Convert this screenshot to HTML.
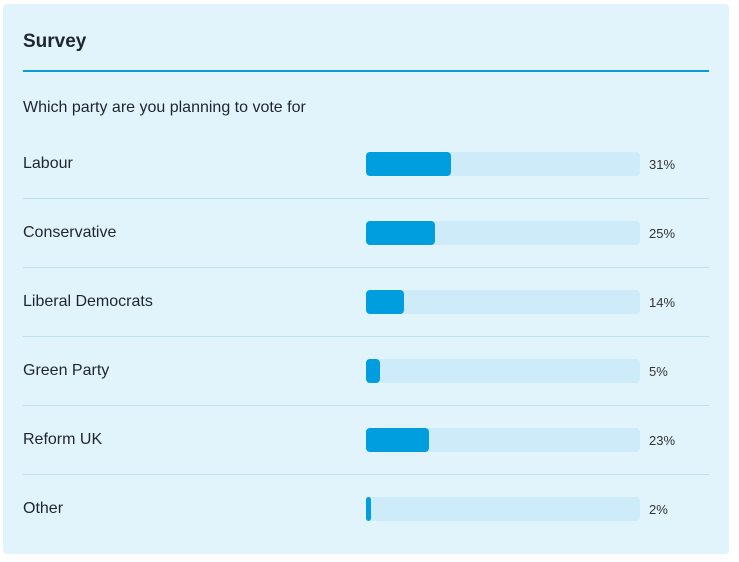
<!DOCTYPE html>
<html><head><meta charset="utf-8"><style>
body{margin:0;background:#fff;font-family:"Liberation Sans",sans-serif;}
#card{position:absolute;left:3px;top:4px;width:726px;height:550px;background:#e2f4fb;border-radius:4px;}
.t{position:absolute;color:#1e2530;}
</style></head><body>
<div id="card">
<div class="t" style="left:20px;top:27px;font-size:19px;font-weight:bold;">Survey</div>
<div style="position:absolute;left:20px;top:66px;width:686px;height:2px;background:#0b9bd8"></div>
<div class="t" style="left:20px;top:95px;font-size:16px;">Which party are you planning to vote for</div>
<div id="rows"></div>
</div>
<script>
const categories=["Labour","Conservative","Liberal Democrats","Green Party","Reform UK","Other"];
const values=[31,25,14,5,23,2];
const labels=["31%","25%","14%","5%","23%","2%"];
const rows=document.getElementById('rows');
const x0=363,trackW=274,rowH=69,top0=148;
function xs(v){return v/100*trackW;}
categories.forEach((c,i)=>{
  const y=top0+i*rowH;
  const l=document.createElement('div');l.className='t';
  
  
  l.style.cssText=`left:20px;top:${y+3}px;font-size:16px;`;l.textContent=c;rows.appendChild(l);
  const tr=document.createElement('div');
  
  
  tr.style.cssText=`position:absolute;left:${x0}px;top:${y}px;width:${trackW}px;height:24px;background:#cdebf8;border-radius:4px;`;
  rows.appendChild(tr);
  const b=document.createElement('div');
  
  
  b.style.cssText=`position:absolute;left:${x0}px;top:${y}px;width:${xs(values[i])}px;height:24px;background:#009ddf;border-radius:4px;`;
  rows.appendChild(b);
  const p=document.createElement('div');p.className='t';
  
  
  p.style.cssText=`left:646px;top:${y+5}px;font-size:13px;color:#333;`;p.textContent=labels[i];rows.appendChild(p);
  if(i<categories.length-1){
    const s=document.createElement('div');
    
    
    s.style.cssText=`position:absolute;left:20px;top:${y+46}px;width:686px;height:1px;background:#bfe0ee;`;
    rows.appendChild(s);
  }
});
</script>
</body></html>
